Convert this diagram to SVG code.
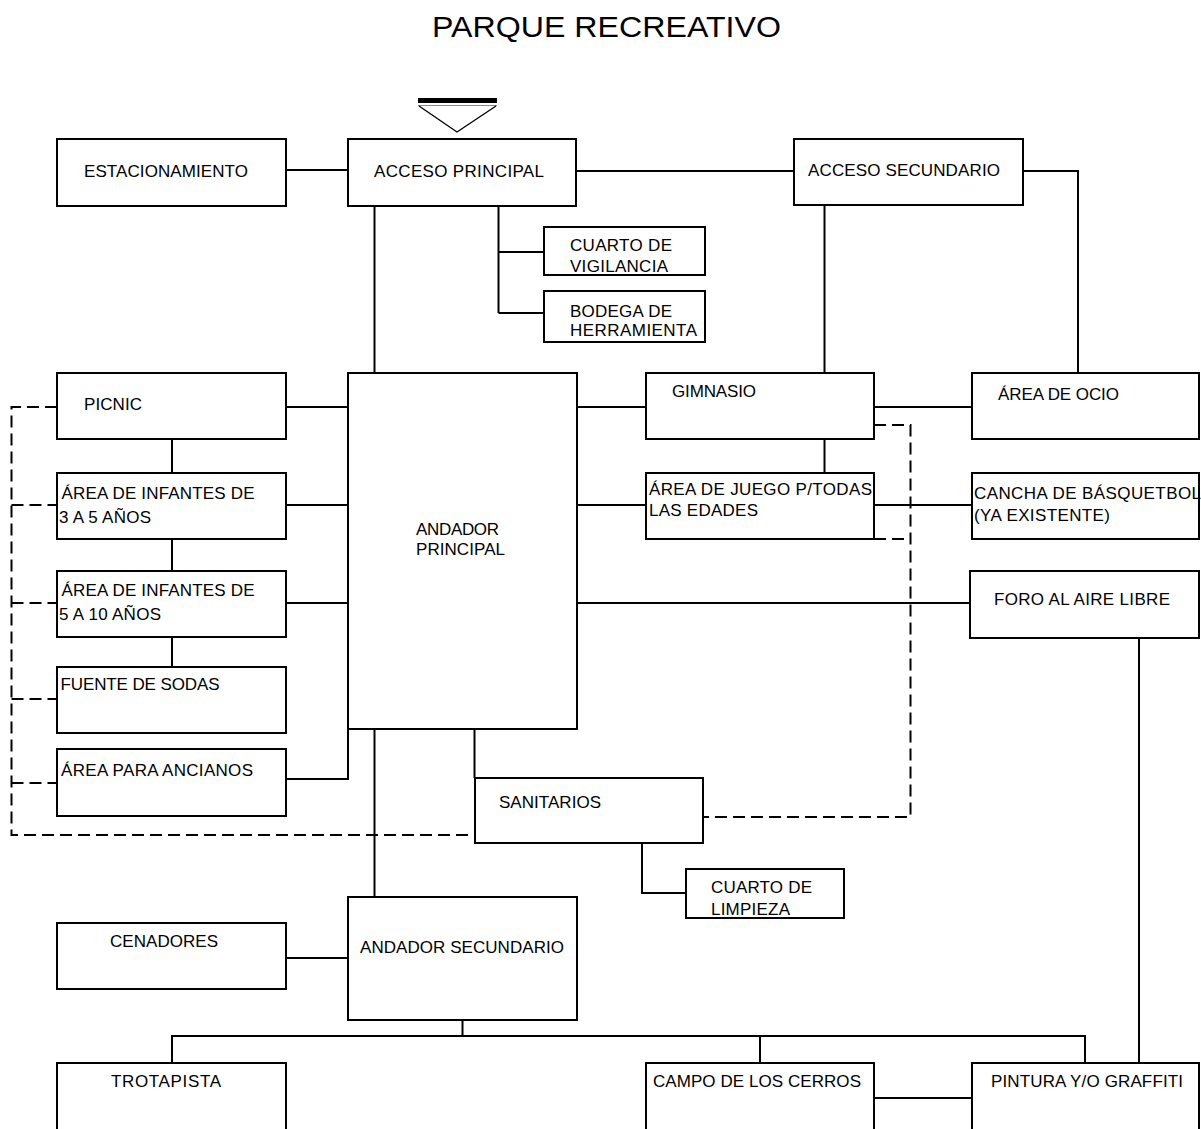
<svg xmlns="http://www.w3.org/2000/svg" width="1201" height="1129" viewBox="0 0 1201 1129">
<style>
.box{fill:#fff;stroke:#000;stroke-width:2}
.ln{fill:none;stroke:#000;stroke-width:2}
.dash{fill:none;stroke:#000;stroke-width:2;stroke-dasharray:12 6}
text{font-family:"Liberation Sans",Arial,sans-serif;font-size:17px;fill:#000}
.title{font-size:29px}
</style>
<rect width="1201" height="1129" fill="#fff"/>
<text class="title" x="432" y="37" textLength="349" lengthAdjust="spacingAndGlyphs">PARQUE RECREATIVO</text>
<g id="entrada">
<rect x="418" y="98" width="79" height="5" fill="#000"/>
<line x1="418" y1="105.5" x2="497" y2="105.5" stroke="#888" stroke-width="1"/>
<polyline points="419,106 457,132 496,106" fill="none" stroke="#000" stroke-width="1.3"/>
</g>
<g id="connectors">
<path class="ln" d="M286 170H348"/>
<path class="ln" d="M576 171H794"/>
<path class="ln" d="M1023 171H1078V373"/>
<path class="ln" d="M374.5 206V373"/>
<path class="ln" d="M498.5 206V313M498.5 252H544M498.5 313H544"/>
<path class="ln" d="M824.5 205V373"/>
<path class="ln" d="M824.5 439V473"/>
<path class="ln" d="M874 407H972"/>
<path class="ln" d="M577 407H646"/>
<path class="ln" d="M286 407H348"/>
<path class="ln" d="M172 439V473M172 539V571M172 637V667"/>
<path class="ln" d="M286 505H348M577 505H646M874 505H972"/>
<path class="ln" d="M286 603H348M577 603H970"/>
<path class="ln" d="M286 779H348V729"/>
<path class="ln" d="M374.5 729V897"/>
<path class="ln" d="M474.5 729V778"/>
<path class="ln" d="M642 843V893H686"/>
<path class="ln" d="M286 958H348"/>
<path class="ln" d="M462.5 1020V1036"/>
<path class="ln" d="M172 1063V1036H1085V1063"/>
<path class="ln" d="M760 1036V1063"/>
<path class="ln" d="M874 1098H972"/>
<path class="ln" d="M1139 638V1063"/>
<path class="dash" d="M57 407H11.5V835H475"/>
<path class="dash" d="M11.5 505H57M11.5 603H57M11.5 699H57M11.5 783H57"/>
<path class="dash" d="M874 425H910.5V817H703"/>
<path class="dash" d="M874 539H910.5"/>
</g>
<g id="estacionamiento"><rect class="box" x="57" y="139" width="229" height="67"/><text x="84" y="176.5" textLength="164">ESTACIONAMIENTO</text></g>
<g id="acceso-principal"><rect class="box" x="348" y="139" width="228" height="67"/><text x="374" y="176.5" textLength="170">ACCESO PRINCIPAL</text></g>
<g id="acceso-secundario"><rect class="box" x="794" y="139" width="229" height="66"/><text x="808" y="176" textLength="192">ACCESO SECUNDARIO</text></g>
<g id="cuarto-vigilancia"><rect class="box" x="544" y="227" width="161" height="48"/><text x="570" y="250.5" textLength="102">CUARTO DE</text><text x="570" y="271.5" textLength="98">VIGILANCIA</text></g>
<g id="bodega"><rect class="box" x="544" y="291" width="161" height="51"/><text x="570" y="316.5" textLength="102">BODEGA DE</text><text x="570" y="336" textLength="127">HERRAMIENTA</text></g>
<g id="picnic"><rect class="box" x="57" y="373" width="229" height="66"/><text x="84" y="410" textLength="58">PICNIC</text></g>
<g id="infantes-3-5"><rect class="box" x="57" y="473" width="229" height="66"/><text x="61.5" y="498.5" textLength="193">ÁREA DE INFANTES DE</text><text x="59" y="522.5" textLength="92">3 A 5 AÑOS</text></g>
<g id="infantes-5-10"><rect class="box" x="57" y="571" width="229" height="66"/><text x="61.5" y="596" textLength="193">ÁREA DE INFANTES DE</text><text x="59" y="620" textLength="102">5 A 10 AÑOS</text></g>
<g id="fuente-sodas"><rect class="box" x="57" y="667" width="229" height="66"/><text x="60.5" y="690" textLength="159">FUENTE DE SODAS</text></g>
<g id="ancianos"><rect class="box" x="57" y="749" width="229" height="67"/><text x="61" y="776" textLength="192">ÁREA PARA ANCIANOS</text></g>
<g id="andador-principal"><rect class="box" x="348" y="373" width="229" height="356"/><text x="416" y="535" textLength="83">ANDADOR</text><text x="416" y="554.5" textLength="89">PRINCIPAL</text></g>
<g id="gimnasio"><rect class="box" x="646" y="373" width="228" height="66"/><text x="672" y="396.5" textLength="84">GIMNASIO</text></g>
<g id="area-ocio"><rect class="box" x="972" y="373" width="227" height="66"/><text x="998" y="400" textLength="121">ÁREA DE OCIO</text></g>
<g id="area-juego"><rect class="box" x="646" y="473" width="228" height="66"/><text x="649" y="495" textLength="223">ÁREA DE JUEGO P/TODAS</text><text x="649" y="515.5" textLength="109">LAS EDADES</text></g>
<g id="cancha"><rect class="box" x="972" y="473" width="227" height="66"/><text x="974" y="498.5" textLength="227">CANCHA DE BÁSQUETBOL</text><text x="974" y="521" textLength="136">(YA EXISTENTE)</text></g>
<g id="foro"><rect class="box" x="970" y="571" width="229" height="67"/><text x="994" y="605" textLength="176">FORO AL AIRE LIBRE</text></g>
<g id="sanitarios"><rect class="box" x="475" y="778" width="228" height="65"/><text x="499" y="808" textLength="102">SANITARIOS</text></g>
<g id="cuarto-limpieza"><rect class="box" x="686" y="869" width="158" height="49"/><text x="711" y="893" textLength="101">CUARTO DE</text><text x="711" y="915" textLength="79">LIMPIEZA</text></g>
<g id="cenadores"><rect class="box" x="57" y="923" width="229" height="66"/><text x="110" y="946.5" textLength="108">CENADORES</text></g>
<g id="andador-secundario"><rect class="box" x="348" y="897" width="229" height="123"/><text x="360" y="952.5" textLength="204">ANDADOR SECUNDARIO</text></g>
<g id="trotapista"><rect class="box" x="57" y="1063" width="229" height="80"/><text x="111" y="1086.5" textLength="110">TROTAPISTA</text></g>
<g id="campo-cerros"><rect class="box" x="646" y="1063" width="228" height="80"/><text x="653" y="1086.5" textLength="208">CAMPO DE LOS CERROS</text></g>
<g id="pintura"><rect class="box" x="972" y="1063" width="227" height="80"/><text x="991" y="1086.5" textLength="192">PINTURA Y/O GRAFFITI</text></g>
</svg>
